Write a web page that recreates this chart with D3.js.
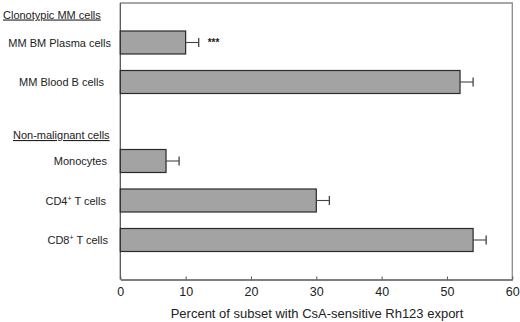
<!DOCTYPE html>
<html><head><meta charset="utf-8">
<script src="https://cdn.jsdelivr.net/npm/d3@7"></script>
<style>body{margin:0;background:#fff}svg{display:block;font-family:"Liberation Sans",Arial,sans-serif}</style>
</head><body>
<svg id="c" width="520" height="322"></svg>
<script>
const slots = ["top","MM BM Plasma cells","MM Blood B cells","gap","Monocytes","CD4+ T cells","CD8+ T cells","bottom"];
const categories = ["MM BM Plasma cells","MM Blood B cells","Monocytes","CD4+ T cells","CD8+ T cells"];
const values = [10, 52, 7, 30, 54];
const errors = [2, 2, 2, 2, 2];
const significance = ["***", "", "", "", ""];
const labelRight = [111, 104, 107, 106, 108];
const groupHeaders = [{text:"Clonotypic MM cells", first:"MM BM Plasma cells", x:3, dy:-24},
                      {text:"Non-malignant cells", first:"Monocytes", x:13, dy:-22}];
const xTicks = [0,10,20,30,40,50,60];
const xTitle = "Percent of subset with CsA-sensitive Rh123 export";

const svg = d3.select("#c");
const L=120.3, R=512.3, T=3, B=279.5;
const x = d3.scaleLinear().domain([0,60]).range([L,R]);
const y = d3.scalePoint().domain(slots).range([T,B]);
const bh = 23;

// frame
svg.append("path").attr("d",`M${L},${T}H${R}V${B}`).attr("fill","none").attr("stroke","#8a8a8a").attr("stroke-width",1.3);
svg.append("line").attr("x1",L).attr("x2",L).attr("y1",T).attr("y2",B).attr("stroke","#555").attr("stroke-width",1.3);

// axis
const ax = svg.append("g").attr("transform",`translate(0,${B})`)
  .call(d3.axisBottom(x).tickValues(xTicks).tickSize(-3).tickPadding(8).tickSizeOuter(0));
ax.select(".domain").attr("stroke","#555").attr("stroke-width",1.3);
ax.selectAll(".tick line").attr("stroke","#555");
ax.selectAll("text").attr("font-size",12.5).attr("fill","#222").attr("font-family","Liberation Sans, Arial, sans-serif");
svg.append("text").attr("x",317).attr("y",318).attr("text-anchor","middle")
  .attr("font-size",13).attr("fill","#222").text(xTitle);

// bars
const data = categories.map((c,i)=>({c, v:values[i], e:errors[i], s:significance[i], r:labelRight[i]}));
svg.selectAll("rect.bar").data(data).join("rect").attr("class","bar")
  .attr("x",x(0)).attr("y",d=>y(d.c)-bh/2).attr("width",d=>x(d.v)-x(0)).attr("height",bh)
  .attr("fill","#a3a3a3").attr("stroke","#2a2a2a").attr("stroke-width",1.2);
// error bars
svg.selectAll("line.err").data(data).join("line").attr("class","err")
  .attr("x1",d=>x(d.v)).attr("x2",d=>x(d.v+d.e)).attr("y1",d=>y(d.c)).attr("y2",d=>y(d.c))
  .attr("stroke","#444").attr("stroke-width",1.1);
svg.selectAll("line.cap").data(data).join("line").attr("class","cap")
  .attr("x1",d=>x(d.v+d.e)).attr("x2",d=>x(d.v+d.e)).attr("y1",d=>y(d.c)-4.5).attr("y2",d=>y(d.c)+4.5)
  .attr("stroke","#444").attr("stroke-width",1.3);
svg.selectAll("text.sig").data(data.filter(d=>d.s)).join("text").attr("class","sig")
  .attr("x",d=>x(d.v+d.e)+9).attr("y",d=>y(d.c)+3).attr("font-size",10).attr("font-weight","bold")
  .attr("fill","#222").text(d=>d.s);

// category labels
const lab = svg.selectAll("text.lab").data(data).join("text").attr("class","lab")
  .attr("x",d=>d.r).attr("y",d=>y(d.c)+4).attr("text-anchor","end").attr("font-size",11).attr("fill","#222");
lab.each(function(d){
  const t=d3.select(this);
  const m = d.c.match(/^(CD\d)\+(.*)$/);
  if(m){
    t.append("tspan").text(m[1]);
    t.append("tspan").attr("dy",-4).attr("font-size",7).text("+");
    t.append("tspan").attr("dy",4).text(m[2]);
  } else t.text(d.c);
});

// headers
svg.selectAll("text.hdr").data(groupHeaders).join("text").attr("class","hdr")
  .attr("x",d=>d.x).attr("y",d=>y(d.first)+d.dy).attr("font-size",11).attr("fill","#222")
  .attr("text-decoration","underline").text(d=>d.text);
</script>
</body></html>
